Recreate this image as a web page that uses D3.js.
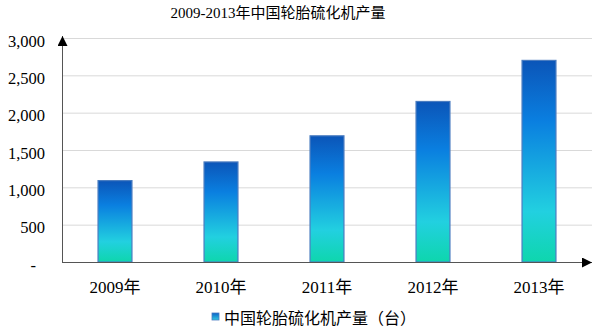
<!DOCTYPE html>
<html><head><meta charset="utf-8">
<script src="https://cdn.jsdelivr.net/npm/d3@7"></script>
<style>body{margin:0;background:#fff}svg{display:block}</style>
</head><body>
<svg id="c" width="600" height="330"></svg>
<script>
const categories = ["2009年","2010年","2011年","2012年","2013年"];
const values = [1090, 1340, 1690, 2150, 2700];
const yTicks = [0, 500, 1000, 1500, 2000, 2500, 3000];
const title = "2009-2013年中国轮胎硫化机产量";
const legendLabel = "中国轮胎硫化机产量（台）";

const svg = d3.select("#c");
const serif = "'Liberation Serif','Times New Roman','Noto Sans CJK SC',serif";
const m = {l:62, r:592, t:38, b:262};
const x = d3.scaleBand().domain(categories).range([m.l, m.r]).paddingInner(0.68).paddingOuter(0.34);
const y = d3.scaleLinear().domain([0,3000]).range([m.b, m.t]);

const defs = svg.append("defs");
const g = defs.append("linearGradient").attr("id","bg").attr("x1",0).attr("y1",0).attr("x2",0).attr("y2",1);
[[0,"#0b55b8"],[0.3,"#0a7fe0"],[0.75,"#22d0e0"],[1,"#0ed6ad"]].forEach(([o,c])=>g.append("stop").attr("offset",o).attr("stop-color",c));
const g2 = defs.append("linearGradient").attr("id","lg").attr("x1",0).attr("y1",0).attr("x2",0).attr("y2",1);
[[0,"#0b63c8"],[1,"#30c8e0"]].forEach(([o,c])=>g2.append("stop").attr("offset",o).attr("stop-color",c));
const mk = defs.append("marker").attr("id","arr").attr("viewBox","0 0 10 10").attr("refX",10).attr("refY",5)
  .attr("markerWidth",10).attr("markerHeight",10).attr("markerUnits","userSpaceOnUse").attr("orient","auto");
mk.append("path").attr("d","M0,0L10,5L0,10Z").attr("fill","#000");

// gridlines
svg.append("g").selectAll("line").data(yTicks.filter(d=>d>0)).join("line")
  .attr("x1",m.l).attr("x2",m.r).attr("y1",d=>y(d)+0.5).attr("y2",d=>y(d)+0.5)
  .attr("stroke","#d9d9d9").attr("stroke-width",1);

// y tick labels
const yAxis = d3.axisLeft(y).tickValues(yTicks).tickSize(0).tickPadding(17)
  .tickFormat(d=> d===0 ? "-" : d3.format(",")(d));
const ya = svg.append("g").attr("transform",`translate(${m.l},0)`).call(yAxis);
ya.select(".domain").remove();
ya.selectAll("text").attr("font-family",serif).attr("font-size",16.5).attr("fill","#000")
  .attr("dy","0.5em").attr("dx",d=>d===0?-9:0);

// bars
svg.append("g").selectAll("rect").data(values).join("rect")
  .attr("x",(d,i)=>x(categories[i])).attr("width",x.bandwidth())
  .attr("y",d=>y(d)).attr("height",d=>y(0)-y(d))
  .attr("fill","url(#bg)").attr("stroke","#4a7cc0").attr("stroke-width",1.2);

// axes lines
svg.append("line").attr("x1",m.l+0.5).attr("x2",m.l+0.5).attr("y1",m.b).attr("y2",m.t-2)
  .attr("stroke","#555").attr("stroke-width",1).attr("marker-end","url(#arr)");
svg.append("line").attr("x1",m.l).attr("x2",m.r).attr("y1",m.b+0.5).attr("y2",m.b+0.5)
  .attr("stroke","#555").attr("stroke-width",1).attr("marker-end","url(#arr)");

// x labels
const xAxis = d3.axisBottom(x).tickSize(0).tickPadding(19);
const xa = svg.append("g").attr("transform",`translate(0,${m.b})`).call(xAxis);
xa.select(".domain").remove();
xa.selectAll("text").attr("font-family",serif).attr("font-size",17).attr("fill","#000");

// title
svg.append("text").attr("x",278).attr("y",18).attr("text-anchor","middle")
  .attr("font-family",serif).attr("font-size",15).attr("fill","#000").text(title);

// legend
svg.append("rect").attr("x",212).attr("y",313).attr("width",7).attr("height",7)
  .attr("fill","url(#lg)").attr("stroke","#4a7cc0").attr("stroke-width",0.8);
svg.append("text").attr("x",224).attr("y",324).attr("font-family","'Noto Sans CJK SC',sans-serif")
  .attr("font-size",16).attr("fill","#000").text(legendLabel);
</script>
</body></html>
